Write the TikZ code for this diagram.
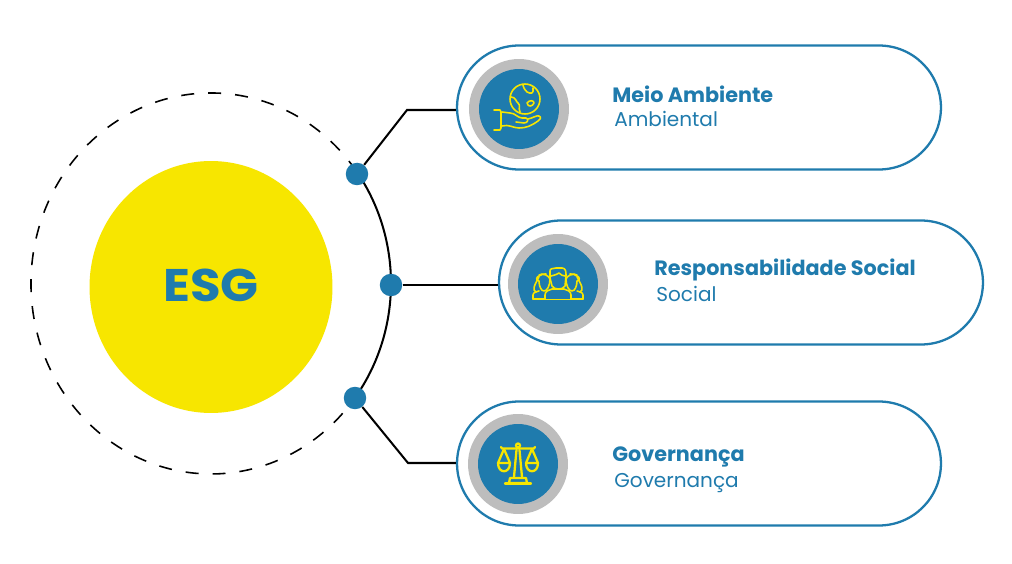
\documentclass[tikz,border=0pt]{standalone}
\usepackage{fontspec}
\usetikzlibrary{shapes.geometric}
\setmainfont{Poppins}
\definecolor{esgblue}{HTML}{1F7BAD}
\definecolor{esgyellow}{HTML}{F7E600}
\definecolor{esggrey}{HTML}{BDBDBD}
\tikzset{
    pill/.style={draw=esgblue,line width=1.3pt,fill=white,rounded corners=1.24cm,minimum width=9.68cm,minimum height=2.48cm},
    dot/.style={circle,fill=esgblue,minimum size=0.45cm,inner sep=0},
    ring/.style={circle,fill=esggrey,minimum size=2cm,inner sep=0},
    disc/.style={circle,fill=esgblue,minimum size=1.6cm,inner sep=0},
    title/.style={anchor=base west,text=esgblue,font=\fontsize{11.8}{14}\selectfont\bfseries,inner sep=0},
    subtitle/.style={anchor=base west,text=esgblue,font=\fontsize{11.4}{14}\selectfont,inner sep=0},
    wire/.style={draw=black,line width=1.15pt},
    icon/.style={draw=esgyellow,line width=0.9pt,line join=round,line cap=round}
}
\begin{document}
\begin{tikzpicture}[x=0.02cm,y=-0.02cm]
    \useasboundingbox (0,0) rectangle (1012,564);
    \fill[white] (0,0) rectangle (1012,564);
    \node[ellipse,fill=esgyellow,minimum width=4.86cm,minimum height=5.04cm,inner sep=0] (esg) at (211,287) {};
    \node[text=esgblue,font=\fontsize{26}{30}\selectfont\bfseries,inner sep=0] (esglabel) at (211,285.5) {\scalebox{1.09}[1]{ESG}};

    \coordinate (orbitstart) at (356.6,171.5);
    \draw[line width=0.9pt,dash pattern=on 0.26cm off 0.28cm] (orbitstart) arc[start angle=-36,end angle=-323,x radius=180,y radius=190.5];
    \draw[wire] (orbitstart) arc[start angle=-36,end angle=37,x radius=180,y radius=190.5];

    \node[pill] (pillA) at (699,107.5) {};
    \node[pill] (pillB) at (741,282.5) {};
    \node[pill] (pillC) at (699,463.5) {};

    \node[dot] (dotA) at (357,174) {};
    \node[dot] (dotB) at (391,285) {};
    \node[dot] (dotC) at (355,398) {};
    \coordinate (bendA) at (407,110);
    \coordinate (bendC) at (408,463);
    \draw[wire] (dotA) -- (bendA) -- (bendA -| pillA.west);
    \draw[wire] (dotB) -- (dotB -| pillB.west);
    \draw[wire] (dotC) -- (bendC) -- (bendC -| pillC.west);

    \node[ring] (ringA) at (519,109) {};
    \node[disc] (discA) at (519,109) {};
    \node[ring] (ringB) at (558,284) {};
    \node[disc] (discB) at (558,284) {};
    \node[ring] (ringC) at (518,464) {};
    \node[disc] (discC) at (518,464) {};

    % hand and globe
    \begin{scope}[shift={(discA.center)},x=0.02cm,y=-0.02cm,icon]
        \draw (6,-10) circle (15);
        \draw (-8,-12) .. controls (-3,-12) and (-3,-7) .. (-1,-6) .. controls (2,-3) and (-1,-2) .. (1,3);
        \draw (4,-24) .. controls (5,-19) and (7,-19) .. (8,-17) .. controls (12,-15) and (15,-15) .. (14,-21);
        \draw (8,-6) .. controls (10,-9) and (15,-9) .. (15,-6) .. controls (14,-3) and (9,-1) .. (8,-6);
        \draw (-25,1) -- (-19,1) -- (-18,3) -- (-18,19) -- (-19,21) -- (-25,21);
        \draw (-17,3) -- (-9,4) .. controls (-4,4) and (-1,9) .. (3,9) -- (7,9) .. controls (10,10) and (9,14) .. (5,14) -- (-3,13);
        \draw (9,10) .. controls (14,9) and (18,6) .. (20,7) .. controls (23,8) and (21,11) .. (19,12) .. controls (12,17) and (7,19) .. (0,19) .. controls (-6,19) and (-10,15) .. (-17,17);
    \end{scope}

    % three people
    \begin{scope}[shift={(discB.center)},x=0.02cm,y=-0.02cm,icon]
        \draw (-25,15) -- (-25,11) .. controls (-25,8) and (-21,8) .. (-19,7);
        \draw (25,15) -- (25,11) .. controls (25,8) and (21,8) .. (19,7);
        \draw (-25,15) -- (25,15);
        \draw (-19,-3) .. controls (-23,-3) and (-21,-8) .. (-19,-8) .. controls (-15,-12) and (-9,-8) .. (-8,-5) .. controls (-8,2) and (-11,7) .. (-14,7) .. controls (-17,7) and (-19,2) .. (-19,-3);
        \draw (19,-3) .. controls (23,-3) and (21,-8) .. (19,-8) .. controls (15,-12) and (9,-8) .. (8,-5) .. controls (8,2) and (11,7) .. (14,7) .. controls (17,7) and (19,2) .. (19,-3);
        \draw (-19,-9) .. controls (-18,-10) and (-15,-10) .. (-12,-10);
        \draw (19,-9) .. controls (18,-10) and (15,-10) .. (12,-10);
        \draw (-19,-7) .. controls (-24,2) and (-26,6) .. (-22,8);
        \draw (19,-7) .. controls (24,2) and (26,6) .. (22,8);
        \draw[fill=esgblue] (-13,15) -- (-13,11) .. controls (-13,7) and (-9,6) .. (-6,5) -- (6,5) .. controls (9,6) and (13,7) .. (13,11) -- (13,15);
        \draw[fill=esgblue] (-8,-6) -- (-8,-13) .. controls (-8,-16) and (-5,-15) .. (-2,-16) -- (4,-16) .. controls (8,-16) and (8,-12) .. (8,-8) -- (7,2) .. controls (5,6) and (-4,6) .. (-6,2) -- cycle;
        \draw (-7,-8) .. controls (-3,-9) and (0,-10) .. (1,-11) .. controls (3,-9) and (5,-8) .. (7,-8);
    \end{scope}

    % scales
    \begin{scope}[shift={(discC.center)},x=0.02cm,y=-0.02cm,icon,line width=1.3pt]
        \draw (-17,-17) -- (-16,-15.5) -- (16,-15.5) -- (17,-17);
        \draw (-1.5,-14) -- (-4,13) (1.5,-14) -- (4,13);
        \draw (0,-18.5) circle (2);
        \draw (-8,14) -- (8,14) -- (9,19) -- (-9,19) -- cycle;
        \draw (-13,19.5) -- (13,19.5);
        \draw (-14,-15) -- (-20,-1) (-14,-15) -- (-8,-1);
        \draw (-20,-1) -- (-8,-1) .. controls (-8,10) and (-20,10) .. (-20,-1);
        \draw (14,-15) -- (8,-1) (14,-15) -- (20,-1);
        \draw (8,-1) -- (20,-1) .. controls (20,10) and (8,10) .. (8,-1);
    \end{scope}

    \node[title] (titleA) at (612,103) {Meio Ambiente};
    \node[subtitle] (subA) at (614,127) {Ambiental};
    \node[title] (titleB) at (654,276) {Responsabilidade Social};
    \node[subtitle] (subB) at (656,302) {Social};
    \node[title] (titleC) at (612,461) {Governança};
    \node[subtitle] (subC) at (614,488) {Governança};
\end{tikzpicture}
\end{document}
